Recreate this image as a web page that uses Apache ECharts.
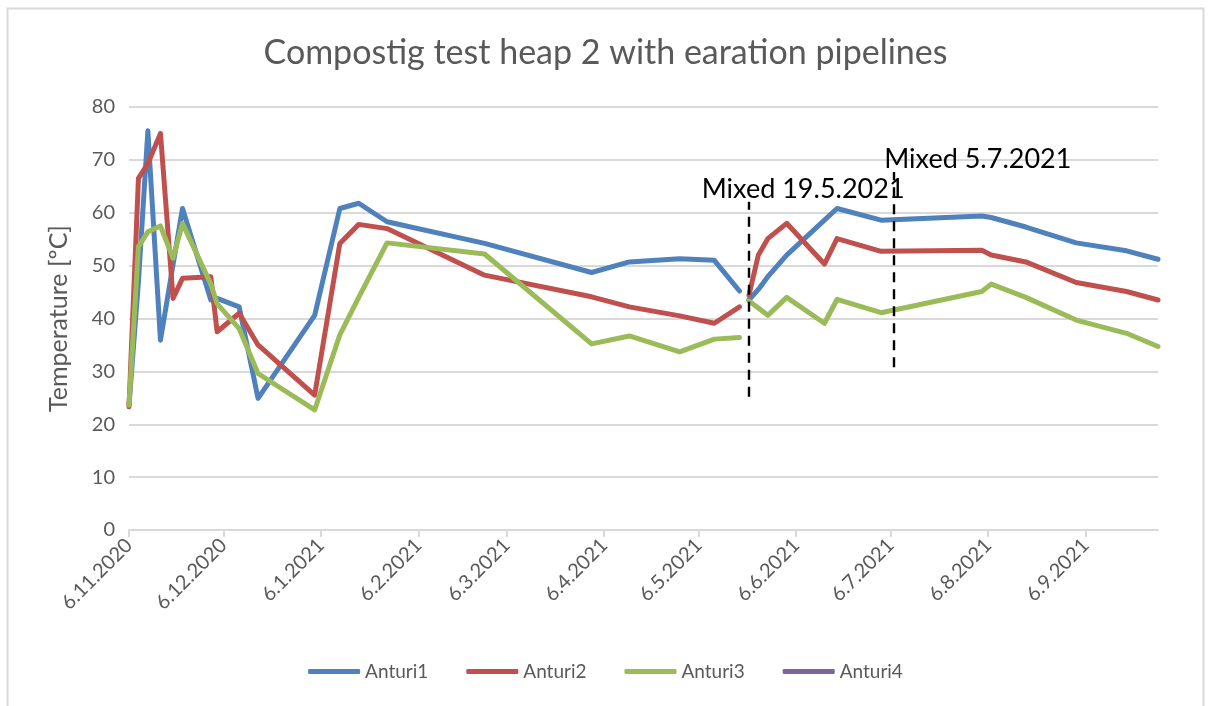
<!DOCTYPE html>
<html>
<head>
<meta charset="utf-8">
<script src="https://cdn.jsdelivr.net/npm/echarts@6/dist/echarts.min.js"></script>
<style>
  html, body { margin: 0; padding: 0; background: #fff; }
  #main { width: 1211px; height: 706px; }
</style>
</head>
<body>
<div id="main"></div>
<script>
// measurement dates (one null row = gap after mixing)
var dates = [
    '2020-11-06', '2020-11-09', '2020-11-12', '2020-11-16', '2020-11-20', '2020-11-23',
    '2020-12-02', '2020-12-04', '2020-12-11', '2020-12-17', '2021-01-04', '2021-01-12',
    '2021-01-18', '2021-01-27', '2021-02-27', '2021-04-02', '2021-04-14', '2021-04-30',
    '2021-05-11', '2021-05-19', '2021-05-20', '2021-05-22', '2021-05-25', '2021-05-28',
    '2021-06-03', '2021-06-15', '2021-06-19', '2021-07-03', '2021-08-04', '2021-08-07',
    '2021-08-18', '2021-09-03', '2021-09-19', '2021-09-29'
];
var anturi1 = [23.6, 47.0, 75.5, 35.9, 50.2, 60.8, 43.5, 43.8, 42.2, 24.9, 40.6, 60.8,
    61.8, 58.3, 54.2, 48.7, 50.7, 51.3, 51.0, 45.2, null, 43.5, 45.5, 47.9,
    52.0, 58.6, 60.8, 58.6, 59.4, 59.1, 57.3, 54.3, 52.8, 51.2];
var anturi2 = [23.3, 66.5, 69.3, 75.0, 43.8, 47.6, 47.9, 37.5, 41.0, 35.0, 25.5, 54.2,
    57.8, 57.0, 48.2, 44.1, 42.2, 40.5, 39.1, 42.2, null, 44.4, 52.0, 55.1,
    58.0, 50.3, 55.1, 52.7, 52.9, 52.0, 50.7, 46.8, 45.1, 43.5];
var anturi3 = [23.6, 53.6, 56.4, 57.5, 51.4, 58.0, 46.5, 42.8, 38.1, 29.6, 22.7, 36.9,
    44.0, 54.3, 52.2, 35.2, 36.7, 33.7, 36.1, 36.4, null, 43.3, 42.0, 40.6,
    44.0, 39.1, 43.6, 41.1, 45.1, 46.5, 44.0, 39.7, 37.2, 34.7];
var anturi4 = [];

var seriesNames = ['Anturi1', 'Anturi2', 'Anturi3', 'Anturi4'];
var seriesColors = ['#4F81BD', '#C0504D', '#9BBB59', '#8064A2'];

// x axis tick labels (6th of each month)
var tickDates = ['2020-11-06', '2020-12-06', '2021-01-06', '2021-02-06', '2021-03-06', '2021-04-06',
    '2021-05-06', '2021-06-06', '2021-07-06', '2021-08-06', '2021-09-06'];
var axisStart = '2020-11-06';
var axisEnd = '2021-09-29';

// annotations: dashed marker lines and their texts
var mixLineDates = ['2021-05-22', '2021-07-07'];
var mixLineFrom = [25.2, 30.8];
var mixLineTo = [62.1, 67.7];
var mixTexts = ['Mixed 19.5.2021', 'Mixed 5.7.2021'];
var mixTextDates = ['2021-05-07', '2021-07-04'];
var mixTextValues = [61.8, 67.5];

var DAY = 86400000;
function parseDate(s) {
    var p = s.split('-');
    return Date.UTC(+p[0], +p[1] - 1, +p[2]);
}
var t0 = parseDate(axisStart);
// days since the first measurement
function toDay(s) {
    return Math.round((parseDate(s) - t0) / DAY);
}
function dayLabel(v) {
    var d = new Date(t0 + Math.round(v) * DAY);
    return d.getUTCDate() + '.' + (d.getUTCMonth() + 1) + '.' + d.getUTCFullYear();
}

function pairs(values) {
    var out = [];
    for (var i = 0; i < values.length; i++) {
        out.push([toDay(dates[i]), values[i] == null ? '-' : values[i]]);
    }
    return out;
}

var FONT = 'Lato';
var GREY = '#595959';

var allValues = [anturi1, anturi2, anturi3, anturi4];
var series = [];
for (var k = 0; k < seriesNames.length; k++) {
    series.push({
        name: seriesNames[k],
        type: 'line',
        data: pairs(allValues[k]),
        showSymbol: false,
        symbol: 'none',
        connectNulls: false,
        lineStyle: { width: 5, color: seriesColors[k], cap: 'round', join: 'round' },
        itemStyle: { color: seriesColors[k] },
        emphasis: { disabled: true },
        z: 3
    });
}

var markLines = [];
var markPoints = [];
for (var m = 0; m < mixLineDates.length; m++) {
    markLines.push([
        { coord: [toDay(mixLineDates[m]), mixLineFrom[m]] },
        { coord: [toDay(mixLineDates[m]), mixLineTo[m]] }
    ]);
    markPoints.push({
        coord: [toDay(mixTextDates[m]), mixTextValues[m]],
        label: { formatter: mixTexts[m] }
    });
}

series.push({
    name: 'annotations',
    type: 'line',
    data: [],
    markLine: {
        silent: true,
        symbol: ['none', 'none'],
        lineStyle: { type: [10, 7], color: '#000', width: 2.4 },
        label: { show: false },
        data: markLines
    },
    markPoint: {
        silent: true,
        symbol: 'circle',
        symbolSize: 0,
        label: {
            show: true,
            position: 'inside',
            align: 'left',
            verticalAlign: 'bottom',
            color: '#000',
            fontFamily: FONT,
            fontSize: 27
        },
        data: markPoints
    },
    z: 5
});

var myChart = echarts.init(document.getElementById('main'), null, { renderer: 'canvas' });

var option = {
    backgroundColor: '#fff',
    animation: false,
    title: {
        text: 'Compostig test heap 2 with earation pipelines',
        left: 'center',
        top: 31,
        textStyle: { fontFamily: FONT, fontSize: 34, fontWeight: 'normal', color: GREY }
    },
    graphic: [{
        type: 'rect',
        shape: { x: 7.5, y: 8.5, width: 1196, height: 720 },
        style: { fill: 'none', stroke: '#d9d9d9', lineWidth: 2 },
        silent: true
    }],
    legend: {
        data: seriesNames,
        bottom: 20,
        left: 'center',
        icon: 'roundRect',
        itemWidth: 52,
        itemHeight: 5,
        itemGap: 38,
        textStyle: { fontFamily: FONT, fontSize: 19, color: GREY }
    },
    grid: { left: 129, right: 53, top: 107, bottom: 176 },
    xAxis: {
        type: 'value',
        min: toDay(axisStart),
        max: toDay(axisEnd),
        axisLine: { show: true, onZero: false, lineStyle: { color: '#d9d9d9', width: 2 } },
        axisTick: {
            show: true,
            length: 7,
            lineStyle: { color: '#d9d9d9', width: 2 },
            customValues: tickDates.map(toDay)
        },
        axisLabel: {
            rotate: 45,
            margin: 12,
            fontFamily: FONT,
            fontSize: 20,
            color: GREY,
            customValues: tickDates.map(toDay),
            formatter: dayLabel
        },
        splitLine: { show: false }
    },
    yAxis: {
        type: 'value',
        min: 0,
        max: 80,
        interval: 10,
        name: 'Temperature [ºC]',
        nameLocation: 'middle',
        nameGap: 58,
        nameTextStyle: { fontFamily: FONT, fontSize: 25, color: GREY },
        axisLine: { show: false },
        axisTick: { show: false },
        axisLabel: { fontFamily: FONT, fontSize: 20, color: GREY, margin: 14 },
        splitLine: { lineStyle: { color: '#d9d9d9', width: 2 } }
    },
    series: series
};

myChart.setOption(option);
</script>
</body>
</html>
